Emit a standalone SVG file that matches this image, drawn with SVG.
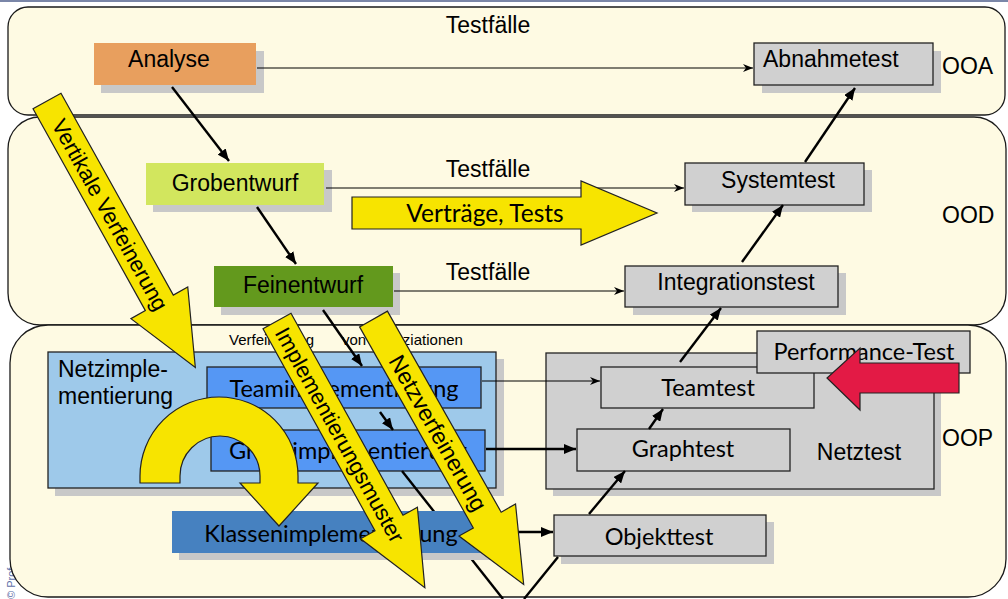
<svg xmlns="http://www.w3.org/2000/svg" width="1008" height="599" viewBox="0 0 1008 599">
<style>
.band{fill:#fefae3;stroke:#1a1a1a;stroke-width:1.3}
.sh{fill:#c8c8c8}
.gray{fill:#d0d0d0;stroke:#222;stroke-width:1.3}
.t{font-family:"Liberation Sans",Arial,sans-serif;font-size:23px;fill:#000}
.l{font-family:Lato,"Liberation Sans",sans-serif;font-size:23.5px;fill:#000}
.yel{fill:#f7e400;stroke:#222;stroke-width:1.2}
.thin{stroke:#000;stroke-width:1.2;fill:none;marker-end:url(#open)}
.thick{stroke:#000;stroke-width:2.4;fill:none;marker-end:url(#solid)}
.plain{stroke:#000;stroke-width:2.4;fill:none}
.blue{fill:#5597f4;stroke:#222;stroke-width:1.3}
</style>
<defs>
<marker id="open" markerUnits="userSpaceOnUse" markerWidth="11" markerHeight="8" refX="10" refY="4" orient="auto"><path d="M0,0 L10,4 L0,8 L3,4 Z" fill="#000"/></marker>
<marker id="solid" markerUnits="userSpaceOnUse" markerWidth="12" markerHeight="10" refX="12" refY="5" orient="auto"><path d="M0,0 L12,5 L0,10 Z" fill="#000"/></marker>
<path id="bigArrow" d="M0,-16 L231,-16 L231,-32.5 L305,0 L231,32.5 L231,16 L0,16 Z"/>
</defs>
<rect x="0" y="0" width="1008" height="2" fill="#7a86a8"/>
<text transform="translate(15,599) rotate(-90)" font-family="Liberation Sans,Arial,sans-serif" font-size="11" fill="#6070a8">© Prof</text>

<g id="band-ooa"><rect class="band" x="8" y="7" width="997" height="108" rx="20"/><text class="t" x="942" y="74">OOA</text></g>
<g id="band-ood"><rect class="band" x="8" y="117" width="998" height="208" rx="32"/><text class="t" x="942" y="223">OOD</text></g>
<g id="band-oop"><rect class="band" x="10" y="325" width="996" height="272" rx="38"/><text class="t" x="942" y="446">OOP</text></g>

<g id="labels">
<text class="t" x="488" y="33" text-anchor="middle">Testfälle</text>
<text class="t" x="488" y="177" text-anchor="middle">Testfälle</text>
<text class="t" x="488" y="280" text-anchor="middle">Testfälle</text>
<text font-family="Liberation Sans,Arial,sans-serif" font-size="15" x="229" y="345">Verfeinerung<tspan x="342">von Assoziationen</tspan></text>
</g>

<g id="analyse"><rect class="sh" x="101" y="51" width="163" height="42"/><rect x="94" y="43" width="162" height="42" fill="#e89f5e"/><text class="t" x="169" y="67" text-anchor="middle">Analyse</text></g>
<g id="abnahmetest"><rect class="sh" x="762" y="51" width="179" height="42"/><rect class="gray" x="754" y="43" width="179" height="42"/><text class="t" x="763" y="67">Abnahmetest</text></g>
<g id="grobentwurf"><rect class="sh" x="153" y="170" width="179" height="42"/><rect x="146" y="163" width="178" height="42" fill="#d2e65e"/><text class="t" x="235" y="191" text-anchor="middle">Grobentwurf</text></g>
<g id="systemtest"><rect class="sh" x="692" y="170" width="180" height="42"/><rect class="gray" x="685" y="163" width="179" height="42"/><text class="t" x="778" y="188" text-anchor="middle">Systemtest</text></g>
<g id="feinentwurf"><rect class="sh" x="221" y="273" width="179" height="42"/><rect x="214" y="266" width="179" height="41" fill="#63991d"/><text class="t" x="303" y="293" text-anchor="middle">Feinentwurf</text></g>
<g id="integrationstest"><rect class="sh" x="633" y="273" width="213" height="42"/><rect class="gray" x="625" y="266" width="213" height="41"/><text class="t" x="736" y="290" text-anchor="middle">Integrationstest</text></g>

<g id="netzimplementierung"><rect class="sh" x="55" y="359" width="449" height="137"/><rect x="48" y="352" width="448" height="136" fill="#9ec9ea" stroke="#222" stroke-width="1.3"/><text class="t" x="58" y="377">Netzimple-</text><text class="t" x="58" y="404">mentierung</text></g>
<g id="netztest"><rect class="sh" x="553" y="360" width="388" height="136"/><rect class="gray" x="546" y="353" width="388" height="136"/><text class="t" x="859" y="460" text-anchor="middle">Netztest</text></g>
<g id="teamimplementierung"><rect class="blue" x="207" y="367" width="274" height="41"/><text class="l" x="344" y="397" text-anchor="middle">Teamimplementierung</text></g>
<g id="graphimplementierung"><rect class="blue" x="211" y="430" width="274" height="41"/><text class="l" x="348" y="459" text-anchor="middle">Graphimplementierung</text></g>
<g id="teamtest"><rect class="gray" x="601" y="367" width="213" height="41"/><text class="l" x="708" y="396" text-anchor="middle">Teamtest</text></g>
<g id="graphtest"><rect class="gray" x="577" y="429" width="213" height="42"/><text class="l" x="683" y="457" text-anchor="middle">Graphtest</text></g>
<g id="objekttest"><rect class="sh" x="561" y="522" width="213" height="42"/><rect class="gray" x="554" y="515" width="212" height="41"/><text class="l" x="659" y="545" text-anchor="middle">Objekttest</text></g>

<g id="connectors">
<path class="thin" d="M257,68 L753,68"/>
<path class="thick" d="M172,87 L229,161"/>
<path class="thin" d="M326,188 L684,188"/>
<path class="thick" d="M805,162 L855,88"/>
<path class="thick" d="M257,207 L296,264"/>
<path class="thin" d="M394,291 L624,291"/>
<path class="thick" d="M742,262 L783,205"/>
<path class="thick" d="M323,310 L362,366"/>
<path class="thick" d="M380,412 L393,430"/>
<path class="thin" d="M482,381 L600,381"/>
<path class="thick" d="M486,449 L576,449"/>
<path class="plain" d="M402,471 L503,599"/>
<path class="plain" d="M524,599 L558,557"/>
<path class="thick" d="M490,532 L553,532"/>
<path class="thick" d="M589,514 L625,471"/>
<path class="thick" d="M649,429 L663,409"/>
<path class="thick" d="M680,362 L721,308"/>
</g>

<g id="klassenimplementierung"><rect class="sh" x="179" y="518" width="318" height="42"/><rect x="172" y="511" width="318" height="42" fill="#4681c0"/><text class="l" x="331" y="542" text-anchor="middle">Klassenimplementierung</text></g>

<g id="vertraege-tests"><path class="yel" d="M352,197 L581,197 L581,181 L657,213 L581,245 L581,229 L352,229 Z"/><text class="l" x="485" y="222" text-anchor="middle" style="font-size:24.5px">Verträge, Tests</text></g>

<g id="vertikale-verfeinerung" transform="translate(47,101) rotate(60.9)"><use href="#bigArrow" class="yel"/><text class="t" x="130" y="8" text-anchor="middle" style="font-size:22px">Vertikale Verfeinerung</text></g>

<g id="u-arrow"><path class="yel" d="M140,483 L140,476 A79,79 0 0 1 298,476 L298,483 L318,483 L279,526 L240,483 L260,483 L260,476 A40,40 0 0 0 180,476 L180,483 Z"/></g>

<g id="implementierungsmuster" transform="translate(277,321) rotate(61)"><use href="#bigArrow" class="yel"/><text class="t" x="130" y="8" text-anchor="middle" style="font-size:22px">Implementierungsmuster</text></g>

<g id="netzverfeinerung" transform="translate(373.5,319) rotate(60.5)"><use href="#bigArrow" class="yel"/><text class="t" x="131" y="8" text-anchor="middle" style="font-size:23px">Netzverfeinerung</text></g>

<g id="performance-test"><rect class="gray" x="757" y="331" width="213" height="42"/><text class="l" x="864" y="360" text-anchor="middle">Performance-Test</text></g>

<g id="red-arrow"><path d="M959,363 L860,363 L860,348 L827,378 L860,410 L860,393 L959,393 Z" fill="#e31a45" stroke="#222" stroke-width="1.2"/></g>
</svg>
